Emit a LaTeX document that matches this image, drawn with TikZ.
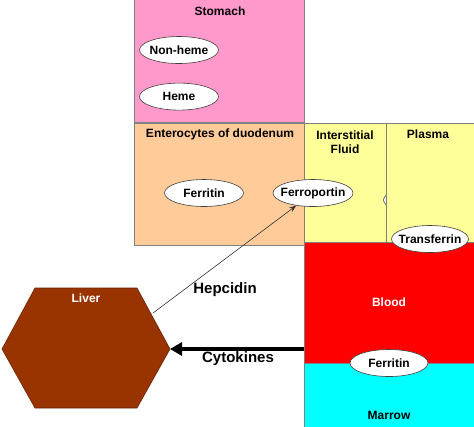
\documentclass[tikz,border=0pt]{standalone}
\usepackage{fontspec}
\setmainfont{Liberation Sans}
\usepackage{xcolor}
\usepackage{tikz}
\usetikzlibrary{shapes.geometric,arrows.meta,positioning}

\definecolor{stomachpink}{HTML}{FF99CC}
\definecolor{enteropeach}{HTML}{FFCC99}
\definecolor{fluidyellow}{HTML}{FFFF99}
\definecolor{bloodred}{HTML}{FF0000}
\definecolor{marrowcyan}{HTML}{00FFFF}
\definecolor{liverbrown}{HTML}{993300}
\definecolor{edgegray}{HTML}{808080}

% text of fixed-size ovals: keep the oval at its own width
\newcommand{\ovaltext}[1]{\makebox[0pt]{#1}}

\begin{document}
\begin{tikzpicture}[
  x=1bp, y=-1bp,
  region/.style={rectangle, draw=edgegray, line width=0.6bp, fill=#1,
                 anchor=north west, inner sep=0pt},
  region/.default={fluidyellow},
  boxtitle/.style={font=\fontsize{12bp}{14bp}\selectfont\bfseries, align=center},
  carrier/.style={ellipse, draw=black!75, line width=0.6bp, fill=white,
                  minimum width=79bp, minimum height=27bp, inner sep=0pt,
                  font=\fontsize{12bp}{14bp}\selectfont\bfseries},
  signal/.style={font=\fontsize{15bp}{17bp}\selectfont\bfseries},
  thinarrow/.style={-{Stealth[length=7bp, width=5bp]}, line width=0.6bp, color=black!80},
  thickarrow/.style={-{Triangle[length=12bp, width=13bp]}, line width=4bp, color=black},
  liverbody/.style={fill=liverbrown, draw=liverbrown!70!black, line width=0.6bp}
]
  \useasboundingbox (0,0) rectangle (474,426);

  % Compartments
  \node[region=stomachpink, minimum width=170bp, minimum height=123bp] (stomach) at (134,-1) {};
  \node[region=enteropeach, minimum width=170bp, minimum height=122bp] (entero) at (134,123) {};
  \node[region, minimum width=82bp, minimum height=119bp] (fluid) at (304,123) {};
  \node[carrier] (fluidcarrier) at (423,200) {};
  \node[region, minimum width=89bp, minimum height=119bp] (plasma) at (386,123) {};
  \node[region=bloodred, minimum width=171bp, minimum height=121bp] (blood) at (304,242) {};
  \node[region=marrowcyan, minimum width=171bp, minimum height=64bp] (marrow) at (304,363) {};

  \node[boxtitle] (stomachlbl) at (220,11) {Stomach};
  \node[boxtitle] (enterolbl) at (220,134) {Enterocytes of duodenum};
  \node[boxtitle] (fluidlbl) at (345,142) {Interstitial\\Fluid};
  \node[boxtitle] (plasmalbl) at (428,134) {Plasma};
  \node[boxtitle, text=white] (bloodlbl) at (389,302) {Blood};
  \node[boxtitle] (marrowlbl) at (389,415) {Marrow};

  % Iron forms and carriers
  \node[carrier] (nonheme) at (179,50) {\ovaltext{Non-heme}};
  \node[carrier, below=19bp of nonheme] (heme) {\ovaltext{Heme}};
  \node[carrier] (ferritinE) at (204,193) {\ovaltext{Ferritin}};
  \node[carrier, minimum width=80bp] (ferroportin) at (313,193) {\ovaltext{Ferroportin}};
  \node[carrier, minimum width=77bp] (transferrin) at (430,239) {\ovaltext{Transferrin}};
  \node[carrier, minimum width=78bp] (ferritinB) at (389,363) {\ovaltext{Ferritin}};

  % Liver
  \draw[liverbody] (2,349) coordinate (liverW) -- (35,288) -- (137,288)
    -- (170,349) coordinate (liverE) -- (137,408) -- (35,408) -- cycle;
  \node[boxtitle, text=white] (liverlbl) at (86,298) {Liver};
  \coordinate (liverNE) at (153,313);

  % Arrows
  \draw[thinarrow] (liverNE) -- (ferroportin);
  \draw[thickarrow] (blood.west |- liverE) -- (liverE);

  \node[signal] (hepcidin) at (225,290) {Hepcidin};
  \node[signal] (cytokines) at (238,359) {Cytokines};
\end{tikzpicture}
\end{document}
